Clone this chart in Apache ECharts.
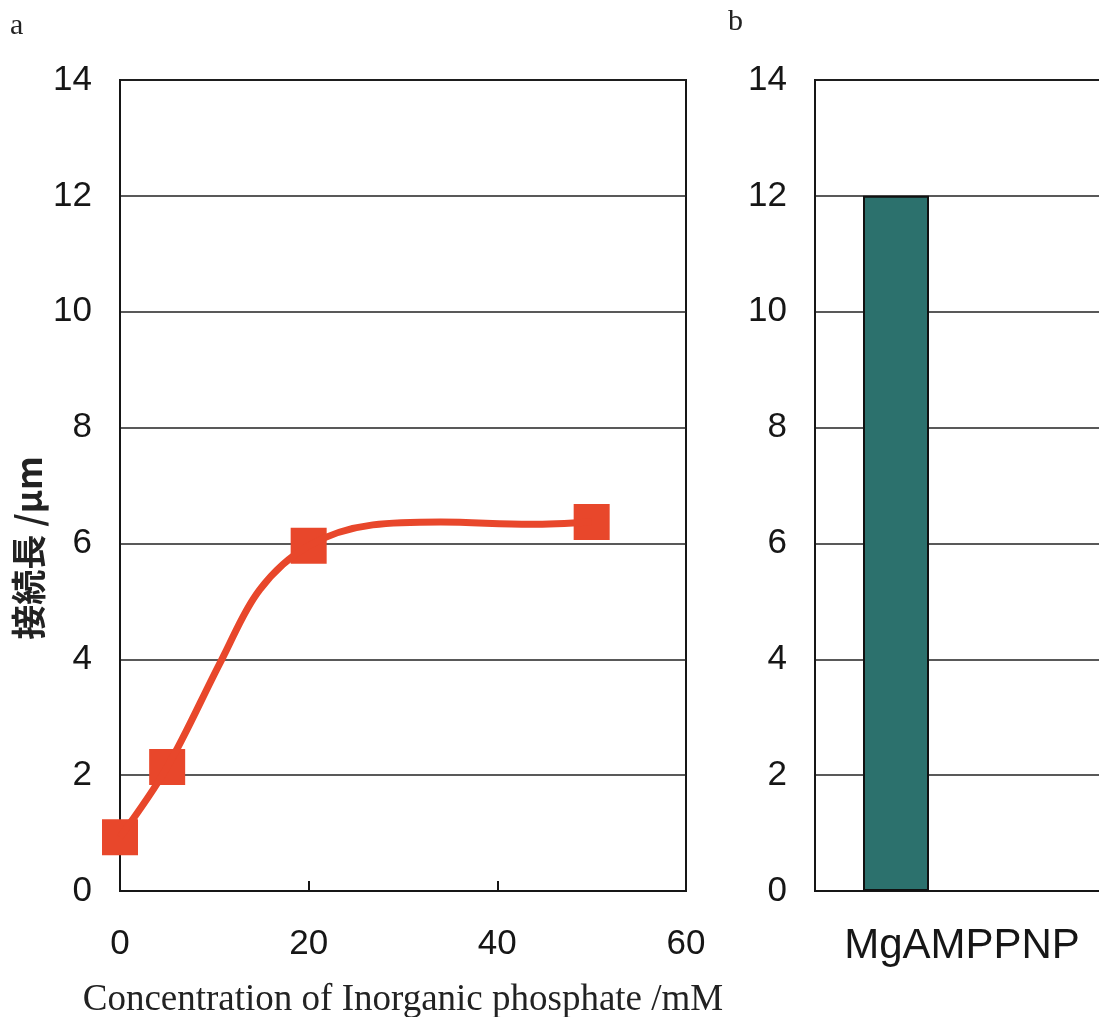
<!DOCTYPE html>
<html>
<head>
<meta charset="utf-8">
<script src="https://cdn.jsdelivr.net/npm/echarts@6/dist/echarts.min.js"></script>
<style>
html, body { margin: 0; padding: 0; background: #fff; }
#main { width: 1099px; height: 1017px; }
</style>
</head>
<body>
<div id="main"></div>
<script>
// panel a: measured points (square markers)
var pointsX = [0, 5, 20, 50];
var pointsY = [0.93, 2.14, 5.96, 6.37];
// panel a: smoothed curve
var curveX = [0, 5, 10.8, 14.8, 20, 26.8, 34, 43.5, 50];
var curveY = [0.93, 2.14, 4.0, 5.2, 5.96, 6.32, 6.37, 6.33, 6.37];
// panel b
var barCats = ['MgAMPPNP'];
var barVals = [12];
var yTicks = [0, 2, 4, 6, 8, 10, 12, 14];

(function() {
	var chart = echarts.init(document.getElementById('main'));

	var pts = [];
	for (var i = 0; i < pointsX.length; i++) pts.push([pointsX[i], pointsY[i]]);
	var curve = [];
	for (var j = 0; j < curveX.length; j++) curve.push([curveX[j], curveY[j]]);

	var tickFont = { fontFamily: 'Liberation Sans', fontSize: 35, color: '#161616' };

	var yAxisBase = function(idx) {
		return {
			gridIndex : idx,
			type : 'value',
			min : yTicks[0],
			max : yTicks[yTicks.length - 1],
			interval : 2,
			axisLine : { show : true, lineStyle : { color : '#161616', width : 2 } },
			axisTick : { show : false },
			splitLine : { show : true, lineStyle : { color : '#222', width : 1.5 } },
			axisLabel : Object.assign({ margin : 28 }, tickFont)
		};
	};

	chart.setOption({
		animation : false,
		graphic : [
			{ type : 'text', left : 10, top : 11, style : { text : 'a', font : '30px "Liberation Serif"', fill : '#222' } },
			{ type : 'text', left : 728, top : 7, style : { text : 'b', font : '30px "Liberation Serif"', fill : '#222' } },
			// y-axis title of panel a (sits lower than the grid middle in the original)
			{ type : 'text', x : 29, y : 548, rotation : Math.PI / 2,
				style : { text : '接続長 /μm', font : 'bold 35px "Noto Sans CJK JP"', fill : '#222', align : 'center', verticalAlign : 'middle' } }
		],
		grid : [
			{ left : 120, top : 80, width : 566, height : 811, outerBoundsMode : 'none', containLabel : false, show : true, borderColor : '#161616', borderWidth : 2 },
			{ left : 815, top : 80, width : 294, height : 811, outerBoundsMode : 'none', containLabel : false, show : true, borderColor : '#161616', borderWidth : 2 }
		],
		xAxis : [ {
			gridIndex : 0,
			type : 'value',
			min : 0,
			max : 60,
			interval : 20,
			axisLine : { show : true, lineStyle : { color : '#161616', width : 2 } },
			axisTick : { show : true, inside : true, length : 10, lineStyle : { color : '#161616', width : 2 } },
			splitLine : { show : false },
			axisLabel : Object.assign({ margin : 36 }, tickFont),
			name : 'Concentration of Inorganic phosphate /mM',
			nameLocation : 'middle',
			nameGap : 91,
			nameTextStyle : { fontFamily : 'Liberation Serif', fontSize : 37, color : '#222' }
		}, {
			gridIndex : 1,
			type : 'category',
			data : barCats,
			axisLine : { show : true, lineStyle : { color : '#161616', width : 2 } },
			axisTick : { show : false },
			axisLabel : Object.assign({ margin : 34 }, tickFont, { fontSize : 42 })
		} ],
		yAxis : [ yAxisBase(0), yAxisBase(1) ],
		series : [ {
			name : 'curve',
			type : 'line',
			xAxisIndex : 0,
			yAxisIndex : 0,
			smooth : 0.35,
			symbol : 'none',
			lineStyle : { color : '#e8472b', width : 7 },
			data : curve
		}, {
			name : 'points',
			type : 'scatter',
			xAxisIndex : 0,
			yAxisIndex : 0,
			symbol : 'rect',
			symbolSize : 36,
			itemStyle : { color : '#e8472b', opacity : 1 },
			data : pts
		}, {
			name : 'bar',
			type : 'bar',
			xAxisIndex : 1,
			yAxisIndex : 1,
			barWidth : 66,
			barGap : '100%',
			itemStyle : { color : '#2c716d', borderColor : '#111', borderWidth : 2 },
			data : barVals
		}, {
			name : 'empty',
			type : 'bar',
			xAxisIndex : 1,
			yAxisIndex : 1,
			barWidth : 66,
			data : ['-']
		} ]
	});
})();
</script>
</body>
</html>
